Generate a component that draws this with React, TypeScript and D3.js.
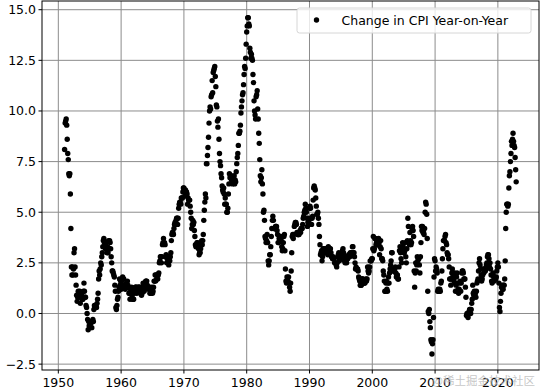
import * as d3 from "d3";

// Monthly CPI change year-on-year (%), Jan..Dec per row
const cpi1950s = [
  8.1, 9.4, 9.5, 9.6, 9.3, 8.6, 7.9, 7.6, 6.9, 6.8, 6.9, 5.9,
  4.2, 2.3, 1.9, 2.3, 1.9, 2.2, 3.0, 3.2, 2.3, 1.9, 1.4, 0.9,
  0.6, 0.8, 1.1, 0.8, 1.0, 1.1, 0.5, 0.8, 0.8, 1.0, 0.7, 0.7,
  1.1, 1.5, 1.1, 0.8, 0.8, 0.4, 0.3, 0.0, -0.3, -0.8, -0.4, -0.6,
  -0.6, -0.7, -0.5, -0.4, -0.7, -0.4, -0.3, -0.4, 0.2, 0.4, 0.3, 0.4,
  0.4, 0.3, 0.5, 0.7, 1.0, 1.7, 2.1, 1.9, 2.2, 2.5, 2.4, 2.8,
  3.0, 3.3, 3.6, 3.7, 3.5, 3.3, 3.2, 3.5, 3.3, 3.0, 3.3, 3.0,
  3.6, 3.2, 3.6, 3.5, 3.2, 2.8, 2.5, 2.1, 2.1, 2.0, 1.9, 1.8,
  1.4, 1.1, 0.3, 0.2, 0.4, 0.7, 0.8, 1.1, 1.3, 1.7, 1.4, 1.6,
];
const cpi1960s = [
  1.2, 1.6, 1.4, 1.8, 1.7, 1.7, 1.4, 1.4, 1.2, 1.4, 1.5, 1.4,
  1.6, 1.4, 1.3, 1.0, 1.0, 0.7, 1.2, 1.0, 1.3, 0.8, 0.7, 0.7,
  0.7, 1.0, 1.1, 1.3, 1.3, 1.3, 1.0, 1.2, 1.3, 1.3, 1.2, 1.3,
  1.3, 1.0, 1.2, 0.9, 1.0, 1.3, 1.5, 1.3, 1.1, 1.3, 1.4, 1.6,
  1.6, 1.6, 1.4, 1.3, 1.2, 1.3, 1.3, 1.0, 1.2, 1.0, 1.3, 1.1,
  1.0, 1.1, 1.3, 1.6, 1.6, 1.9, 1.6, 1.9, 1.7, 1.9, 1.7, 1.9,
  2.0, 2.5, 2.6, 2.8, 2.8, 2.5, 2.8, 3.4, 3.5, 3.7, 3.5, 3.5,
  3.4, 2.8, 2.9, 2.5, 2.7, 2.8, 2.8, 2.4, 2.8, 2.6, 2.8, 3.0,
  3.6, 3.9, 4.0, 4.0, 3.9, 4.2, 4.4, 4.5, 4.4, 4.6, 4.7, 4.7,
  4.4, 4.7, 5.2, 5.4, 5.5, 5.5, 5.4, 5.7, 5.7, 5.7, 6.0, 6.2,
];
const cpi1970s = [
  6.2, 6.1, 5.8, 6.1, 6.0, 6.0, 5.9, 5.4, 5.7, 5.6, 5.6, 5.6,
  5.3, 5.0, 4.7, 4.2, 4.4, 4.6, 4.4, 4.5, 4.1, 3.8, 3.4, 3.3,
  3.3, 3.5, 3.5, 3.4, 3.2, 2.9, 3.0, 3.0, 3.2, 3.4, 3.6, 3.4,
  3.6, 3.9, 4.6, 5.1, 5.5, 5.9, 5.7, 7.4, 7.4, 7.8, 8.2, 8.7,
  9.4, 10.0, 10.2, 10.1, 10.7, 10.8, 11.5, 10.9, 11.9, 12.0, 12.1, 12.2,
  11.7, 11.2, 10.3, 10.2, 9.5, 9.2, 9.6, 8.6, 7.9, 7.5, 7.3, 6.9,
  6.7, 6.3, 6.1, 6.0, 6.2, 5.9, 5.4, 5.7, 5.4, 5.4, 5.0, 5.0,
  5.2, 5.9, 6.4, 6.9, 6.7, 6.8, 6.8, 6.6, 6.5, 6.4, 6.7, 6.6,
  6.8, 6.4, 6.6, 6.5, 7.0, 7.4, 7.7, 7.9, 8.3, 8.9, 8.9, 9.0,
  9.3, 9.9, 10.2, 10.5, 10.8, 10.9, 11.3, 11.8, 12.2, 12.1, 12.6, 13.3,
];
const cpi1980s = [
  13.9, 14.2, 14.6, 14.6, 14.3, 14.2, 13.1, 12.9, 12.6, 12.8, 12.6, 12.5,
  11.8, 11.4, 10.5, 10.0, 9.8, 9.6, 10.7, 10.8, 11.0, 10.1, 9.6, 8.9,
  8.4, 7.6, 6.8, 6.5, 6.7, 7.1, 6.4, 5.9, 5.0, 5.1, 4.6, 3.8,
  3.7, 3.5, 3.6, 3.9, 3.5, 2.6, 2.4, 2.6, 2.9, 2.9, 3.3, 3.8,
  4.2, 4.6, 4.8, 4.6, 4.2, 4.2, 4.2, 4.3, 4.3, 4.3, 4.1, 3.9,
  3.5, 3.5, 3.7, 3.7, 3.8, 3.8, 3.6, 3.3, 3.1, 3.2, 3.5, 3.8,
  3.9, 3.1, 2.2, 1.6, 1.5, 1.8, 1.6, 1.6, 1.8, 1.5, 1.3, 1.1,
  1.5, 2.1, 3.0, 3.8, 3.9, 3.7, 3.9, 4.3, 4.4, 4.5, 4.5, 4.4,
  4.0, 3.9, 3.9, 3.9, 3.9, 4.0, 4.1, 4.0, 4.2, 4.2, 4.2, 4.4,
  4.7, 4.8, 5.0, 5.1, 5.4, 5.2, 5.0, 4.7, 4.3, 4.5, 4.7, 4.6,
];
const cpi1990s = [
  5.2, 5.3, 5.2, 4.7, 4.4, 4.7, 4.8, 5.6, 6.2, 6.3, 6.2, 6.1,
  5.7, 5.3, 4.9, 4.9, 5.0, 4.7, 4.4, 3.8, 3.4, 2.9, 3.0, 3.1,
  2.6, 2.8, 3.2, 3.2, 3.0, 3.1, 3.2, 3.1, 3.0, 3.2, 3.0, 2.9,
  3.3, 3.2, 3.1, 3.2, 3.2, 3.0, 2.8, 2.8, 2.7, 2.8, 2.7, 2.7,
  2.5, 2.5, 2.5, 2.4, 2.3, 2.5, 2.8, 2.9, 3.0, 2.6, 2.7, 2.7,
  2.8, 2.9, 2.9, 3.1, 3.2, 3.0, 2.8, 2.6, 2.5, 2.8, 2.6, 2.5,
  2.7, 2.7, 2.8, 2.9, 2.9, 2.8, 3.0, 2.9, 3.0, 3.0, 3.3, 3.3,
  3.0, 3.0, 2.8, 2.5, 2.2, 2.3, 2.2, 2.2, 2.2, 2.1, 1.8, 1.7,
  1.6, 1.4, 1.4, 1.4, 1.7, 1.7, 1.7, 1.6, 1.5, 1.5, 1.5, 1.6,
  1.7, 1.6, 1.7, 2.3, 2.1, 2.0, 2.1, 2.3, 2.6, 2.6, 2.6, 2.7,
];
const cpi2000s = [
  2.7, 3.2, 3.8, 3.1, 3.2, 3.7, 3.7, 3.4, 3.5, 3.4, 3.4, 3.4,
  3.7, 3.5, 2.9, 3.3, 3.6, 3.2, 2.7, 2.7, 2.6, 2.1, 1.9, 1.6,
  1.1, 1.1, 1.5, 1.6, 1.2, 1.1, 1.5, 1.8, 1.5, 2.0, 2.2, 2.4,
  2.6, 3.0, 3.0, 2.2, 2.1, 2.1, 2.1, 2.2, 2.3, 2.0, 1.8, 1.9,
  1.9, 1.7, 1.7, 2.3, 3.1, 3.3, 3.0, 2.7, 2.5, 3.2, 3.5, 3.3,
  3.0, 3.0, 3.1, 3.5, 2.8, 2.5, 3.2, 3.6, 4.7, 4.3, 3.5, 3.4,
  4.0, 3.6, 3.4, 3.5, 4.2, 4.3, 4.1, 3.8, 2.1, 1.3, 2.0, 2.5,
  2.1, 2.4, 2.8, 2.6, 2.7, 2.7, 2.4, 2.0, 2.8, 3.5, 4.3, 4.1,
  4.3, 4.0, 4.0, 3.9, 4.2, 5.0, 5.5, 5.4, 4.9, 3.7, 1.1, 0.1,
  0.0, 0.2, -0.4, -0.7, -1.3, -1.4, -2.0, -1.5, -1.3, -0.2, 1.8, 2.7,
];
const cpi2010s = [
  2.6, 2.1, 2.3, 2.2, 2.0, 1.1, 1.2, 1.1, 1.1, 1.2, 1.1, 1.5,
  1.6, 2.1, 2.7, 3.2, 3.6, 3.6, 3.6, 3.8, 3.9, 3.5, 3.4, 3.0,
  2.9, 2.9, 2.7, 2.3, 1.7, 1.7, 1.4, 1.7, 2.0, 2.2, 1.8, 1.7,
  1.6, 2.0, 1.5, 1.1, 1.4, 1.8, 2.0, 1.5, 1.2, 1.0, 1.2, 1.5,
  1.6, 1.1, 1.5, 2.0, 2.1, 2.1, 2.0, 1.7, 1.7, 1.7, 1.3, 0.8,
  -0.1, 0.0, -0.1, -0.2, 0.0, 0.1, 0.2, 0.2, 0.0, 0.2, 0.5, 0.7,
  1.4, 1.0, 0.9, 1.1, 1.0, 1.0, 0.8, 1.1, 1.5, 1.6, 1.7, 2.1,
  2.5, 2.7, 2.4, 2.2, 1.9, 1.6, 1.7, 1.9, 2.2, 2.0, 2.2, 2.1,
  2.1, 2.2, 2.4, 2.5, 2.8, 2.9, 2.9, 2.7, 2.3, 2.5, 2.2, 1.9,
  1.6, 1.5, 1.9, 2.0, 1.8, 1.6, 1.8, 1.7, 1.7, 1.8, 2.1, 2.3,
];
const cpi2020s = [
  2.5, 2.3, 1.5, 0.3, 0.1, 0.6, 1.0, 1.3, 1.4, 1.2, 1.2, 1.4,
  1.4, 1.7, 2.6, 4.2, 5.0, 5.4, 5.4, 5.3, 5.4, 6.2, 6.8, 7.0,
  7.5, 7.9, 8.5, 8.3, 8.6, 8.9, 8.5, 8.3, 8.2, 7.7, 7.1, 6.5,
];

const decades = [
  { start: 1951, values: cpi1950s },
  { start: 1960, values: cpi1960s },
  { start: 1970, values: cpi1970s },
  { start: 1980, values: cpi1980s },
  { start: 1990, values: cpi1990s },
  { start: 2000, values: cpi2000s },
  { start: 2010, values: cpi2010s },
  { start: 2020, values: cpi2020s },
];

const xTicks = [1950, 1960, 1970, 1980, 1990, 2000, 2010, 2020];
const yTicks = [-2.5, 0, 2.5, 5, 7.5, 10, 12.5, 15];
const legendLabel = "Change in CPI Year-on-Year";
const watermark = "@稀土掘金技术社区";

const width = 540;
const height = 391;
const margin = { top: 1, right: 1, bottom: 21, left: 42 };

export default function App() {
  const points = decades.flatMap(d =>
    d.values.map((v, i) => ({ t: d.start + i / 12, v }))
  );

  const x = d3.scaleLinear()
    .domain([1947.4, 2026.55])
    .range([margin.left, width - margin.right]);
  const y = d3.scaleLinear()
    .domain([-2.79, 15.43])
    .range([height - margin.bottom, margin.top]);

  const font = "'DejaVu Sans', sans-serif";
  const gridColor = "#8c8c8c";
  const x0 = margin.left;
  const x1 = width - margin.right;
  const y0 = height - margin.bottom;
  const y1 = margin.top;

  return (
    <svg
      width={width}
      height={height}
      style={{ position: "absolute", left: 0, top: 0, background: "#fff" }}
      fontFamily={font}
    >
      {/* grid */}
      {xTicks.map(t => (
        <line key={"gx" + t} x1={x(t)} x2={x(t)} y1={y0} y2={y1}
          stroke={gridColor} strokeWidth={1} />
      ))}
      {yTicks.map(t => (
        <line key={"gy" + t} x1={x0} x2={x1} y1={y(t)} y2={y(t)}
          stroke={gridColor} strokeWidth={1} />
      ))}

      {/* points */}
      {points.map((p, i) => (
        <circle key={i} cx={x(p.t)} cy={y(p.v)} r={2.7} fill="#000" />
      ))}

      {/* axes frame */}
      <rect x={x0} y={y1} width={x1 - x0} height={y0 - y1}
        fill="none" stroke="#000" strokeWidth={1} />

      {/* x ticks */}
      {xTicks.map(t => (
        <g key={"tx" + t}>
          <line x1={x(t)} x2={x(t)} y1={y0} y2={y0 + 3.5} stroke="#000" />
          <text x={x(t)} y={y0 + 17} textAnchor="middle" fontSize={12.5} fill="#000">
            {t}
          </text>
        </g>
      ))}

      {/* y ticks */}
      {yTicks.map(t => (
        <g key={"ty" + t}>
          <line x1={x0 - 3.5} x2={x0} y1={y(t)} y2={y(t)} stroke="#000" />
          <text x={x0 - 6} y={y(t) + 4.5} textAnchor="end" fontSize={12.5} fill="#000">
            {t < 0 ? "\u22122.5" : t.toFixed(1)}
          </text>
        </g>
      ))}

      {/* legend */}
      <g>
        <rect x={297} y={8} width={234} height={25} rx={2.5}
          fill="#fff" fillOpacity={0.8} stroke="#d6d6d6" strokeWidth={1} />
        <circle cx={316.5} cy={20} r={2.7} fill="#000" />
        <text x={341.5} y={24.5} fontSize={12.5} fill="#000">{legendLabel}</text>
      </g>

      {/* watermark */}
      <text x={535} y={385} textAnchor="end" fontSize={11.5}
        fontFamily="'Noto Sans CJK SC', sans-serif" fill="#b8b8b8" fillOpacity={0.8}>
        {watermark}
      </text>
    </svg>
  );
}
